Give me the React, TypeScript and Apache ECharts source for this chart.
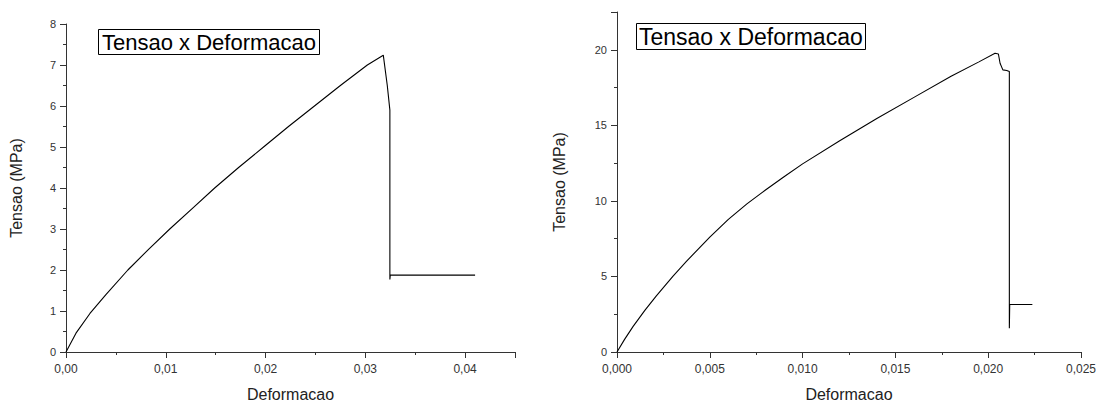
import React, { useEffect, useRef } from "react";
import * as echarts from "echarts";

// Left specimen: strain (Deformacao) vs stress (Tensao, MPa)
const leftStrain = [0, 0.001, 0.0024, 0.004, 0.0062, 0.0083, 0.0104, 0.0127, 0.0149, 0.0173, 0.0198, 0.0223, 0.0249, 0.0275, 0.0302, 0.0318, 0.0322, 0.03246, 0.03246, 0.0325, 0.041];
const leftStress = [0, 0.46, 0.94, 1.4, 2.0, 2.51, 3.0, 3.51, 4.0, 4.5, 5.0, 5.5, 6.0, 6.5, 7.0, 7.24, 6.5, 5.9, 1.77, 1.875, 1.875];

// Right specimen
const rightStrain = [0, 0.0004, 0.00086, 0.0015, 0.00212, 0.00302, 0.00374, 0.005, 0.006, 0.007, 0.008, 0.009, 0.01, 0.012, 0.014, 0.016, 0.018, 0.0195, 0.02037, 0.02055, 0.02064, 0.02079, 0.021, 0.02114, 0.02114, 0.02116, 0.02238];
const rightStress = [0, 0.82, 1.68, 2.75, 3.72, 5.02, 6.0, 7.6, 8.78, 9.8, 10.72, 11.6, 12.45, 13.98, 15.45, 16.85, 18.25, 19.2, 19.77, 19.72, 19.11, 18.67, 18.63, 18.56, 1.57, 3.14, 3.14];

const titleText = "Tensao x Deformacao";
const xName = "Deformacao";
const yName = "Tensao (MPa)";

const FONT = "'Liberation Sans', Arial, sans-serif";
const AXIS_COLOR = "#333";
const TEXT_COLOR = "#333";

const fmt = (step: number, decimals: number) => (v: number) => {
  const r = v / step;
  if (Math.abs(r - Math.round(r)) > 1e-6) return "";
  return v.toFixed(decimals).replace(".", ",");
};

function mainX(grid: number, max: number, interval: number, dec: number) {
  return {
    gridIndex: grid,
    type: "value",
    position: "bottom",
    min: 0,
    max,
    interval,
    name: xName,
    nameLocation: "middle",
    nameGap: 34,
    nameTextStyle: { fontFamily: FONT, fontSize: 16, color: "#222" },
    axisLine: { show: true, onZero: false, lineStyle: { color: AXIS_COLOR, width: 1 } },
    axisTick: { show: true, length: 6, lineStyle: { color: AXIS_COLOR, width: 1 } },
    axisLabel: { formatter: fmt(interval, dec), fontFamily: FONT, fontSize: 12, color: TEXT_COLOR, margin: 11 },
    splitLine: { show: false },
  };
}
function minorX(grid: number, max: number, interval: number) {
  return {
    gridIndex: grid,
    type: "value",
    position: "bottom",
    min: 0,
    max,
    interval,
    axisLine: { show: false, onZero: false },
    axisTick: { show: true, length: 3, lineStyle: { color: AXIS_COLOR, width: 1 } },
    axisLabel: { show: false },
    splitLine: { show: false },
  };
}
function mainY(grid: number, max: number, interval: number, gap: number) {
  return {
    gridIndex: grid,
    type: "value",
    position: "left",
    min: 0,
    max,
    interval,
    name: yName,
    nameLocation: "middle",
    nameGap: gap,
    nameRotate: 90,
    nameTextStyle: { fontFamily: FONT, fontSize: 16, color: "#222" },
    axisLine: { show: true, onZero: false, lineStyle: { color: AXIS_COLOR, width: 1 } },
    axisTick: { show: true, length: 6, lineStyle: { color: AXIS_COLOR, width: 1 } },
    axisLabel: { formatter: fmt(interval, 0), fontFamily: FONT, fontSize: 11, color: TEXT_COLOR, margin: 10 },
    splitLine: { show: false },
  };
}
function minorY(grid: number, max: number, interval: number) {
  return {
    gridIndex: grid,
    type: "value",
    position: "left",
    min: 0,
    max,
    interval,
    axisLine: { show: false, onZero: false },
    axisTick: { show: true, length: 3, lineStyle: { color: AXIS_COLOR, width: 1 } },
    axisLabel: { show: false },
    splitLine: { show: false },
  };
}

export default function App() {
  const ref = useRef<HTMLDivElement>(null);
  useEffect(() => {
    if (!ref.current) return;
    const chart = echarts.init(ref.current, undefined, { renderer: "svg" });
    const leftData = leftStrain.map((x, i) => [x, leftStress[i]]);
    const rightData = rightStrain.map((x, i) => [x, rightStress[i]]);
    chart.setOption({
      animation: false,
      backgroundColor: "#fff",
      title: [
        {
          text: titleText,
          left: 98,
          top: 29,
          padding: [1, 4],
          borderColor: "#000",
          borderWidth: 1,
          textStyle: { fontFamily: FONT, fontSize: 22, fontWeight: "normal", color: "#000", lineHeight: 24 },
        },
        {
          text: titleText,
          left: 636,
          top: 23,
          padding: [1, 3],
          borderColor: "#000",
          borderWidth: 1,
          textStyle: { fontFamily: FONT, fontSize: 23, fontWeight: "normal", color: "#000", lineHeight: 25 },
        },
      ],
      grid: [
        { left: 66, top: 24, width: 449, height: 333 },
        { left: 617, top: 12, width: 464, height: 344 },
      ],
      xAxis: [
        mainX(0, 0.045, 0.01, 2),
        minorX(0, 0.045, 0.005),
        mainX(1, 0.025, 0.005, 3),
        minorX(1, 0.025, 0.0025),
      ],
      yAxis: [
        mainY(0, 8, 1, 42),
        minorY(0, 8, 0.5),
        mainY(1, 22.5, 5, 50),
        minorY(1, 22.5, 2.5),
      ],
      series: [
        {
          type: "line",
          xAxisIndex: 0,
          yAxisIndex: 0,
          data: leftData,
          showSymbol: false,
          lineStyle: { color: "#000", width: 1.1 },
          silent: true,
        },
        {
          type: "line",
          xAxisIndex: 2,
          yAxisIndex: 2,
          data: rightData,
          showSymbol: false,
          lineStyle: { color: "#000", width: 1.1 },
          silent: true,
        },
      ],
    });
    return () => chart.dispose();
  }, []);
  return (
    <div
      ref={ref}
      style={{ position: "fixed", left: 0, top: 0, width: 1099, height: 407 }}
    />
  );
}
